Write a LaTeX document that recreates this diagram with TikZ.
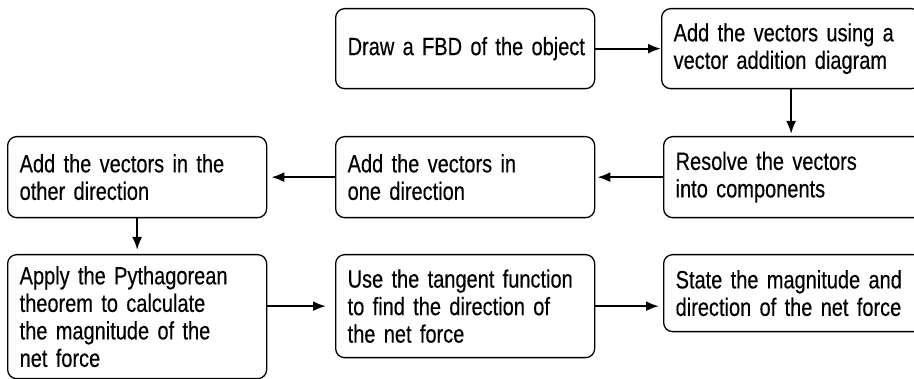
\documentclass[tikz,border=0pt]{standalone}
\usepackage{fontspec}
\setmainfont{Liberation Sans}[FakeStretch=0.8, FakeBold=0.3]
\usetikzlibrary{arrows.meta}
\hyphenpenalty=10000

\begin{document}
\begin{tikzpicture}[x=1pt, y=-1pt, >={Latex[length=13pt,width=10pt]}]
			\tikzstyle{box}=[draw=black, line width=1.3pt, rounded corners=9pt, anchor=north west, inner xsep=12pt, inner ysep=4pt, text width=235pt, align=left, font=\fontsize{25}{27.5}\selectfont]
			\tikzstyle{link}=[->, line width=2.2pt]
			\useasboundingbox (0,0) rectangle (914,379);
			
			% Draw the steps
			\node[box, minimum height=80pt] (fbd) at (335,8) {\mbox{Draw a FBD of the object}};
			\node[box, minimum height=80pt] (addall) at (661,8) {Add the vectors using a\\vector addition diagram};
			\node[box, minimum height=81pt] (resolve) at (663,136) {Resolve the vectors\\into components};
			\node[box, minimum height=81pt] (onedir) at (335,136) {Add the vectors in\\one direction};
			\node[box, minimum height=81pt] (otherdir) at (7,136) {Add the vectors in the\\other direction};
			\node[box, minimum height=124pt] (pyth) at (7,254) {Apply the Pythagorean\\theorem to calculate\\the magnitude of the\\net force};
			\node[box, minimum height=103pt] (tangent) at (335,254) {Use the tangent function\\to find the direction of\\the net force};
			\node[box, minimum height=77pt] (state) at (663,254) {State the magnitude and\\direction of the net force};
			
			% Draw arrows
			\draw[link] (fbd.east) -- (addall.west);
			\draw[link, shorten >=2pt] (addall.south) -- (addall.south |- resolve.north);
			\draw[link, shorten >=2pt] (resolve.west) -- (onedir.east);
			\draw[link, shorten >=4pt] (onedir.west) -- (otherdir.east);
			\draw[link, shorten >=4pt] (otherdir.south) -- (pyth.north);
			\draw[link, shorten >=9pt] (pyth.east |- tangent.west) -- (tangent.west);
			\draw[link, shorten >=4pt] (tangent.east) -- (state.west |- tangent.east);
			
		\end{tikzpicture}
\end{document}
